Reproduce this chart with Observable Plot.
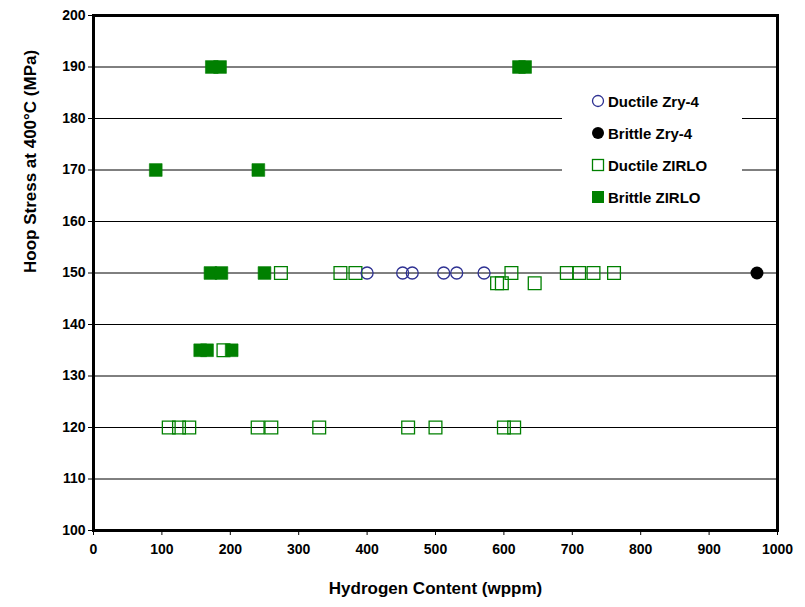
<!DOCTYPE html>
<html>
<head>
<meta charset="utf-8">
<script src="https://cdn.jsdelivr.net/npm/d3@7"></script>
<script src="https://cdn.jsdelivr.net/npm/@observablehq/plot@0.6"></script>
<style>
  body { margin: 0; background: #fff; }
  #wrap { position: relative; width: 805px; height: 607px; }
  #legend { position: absolute; left: 562px; top: 85px; width: 180px; height: 126px; background: #fff;
    font-family: "Liberation Sans", Arial, sans-serif; font-weight: bold; font-size: 15px; color: #000; }
  .item { position: absolute; left: 29px; height: 16px; display: flex; align-items: center; white-space: nowrap; }
  .item svg { margin-right: 3px; }
</style>
</head>
<body>
<div id="wrap"><div id="legend"></div></div>
<script>
// ---- data (hydrogen content wppm, hoop stress MPa) ----
const ductileZry4H = [400, 452, 466, 512, 531, 571];
const ductileZry4S = [150, 150, 150, 150, 150, 150];
const brittleZry4H = [970];
const brittleZry4S = [150];
const ductileZirloH = [110, 125, 140, 240, 260, 330, 460, 500, 600, 615, 190, 274, 361, 383, 611, 692, 710, 731, 761, 590, 597, 645];
const ductileZirloS = [120, 120, 120, 120, 120, 120, 120, 120, 120, 120, 135, 150, 150, 150, 150, 150, 150, 150, 150, 148, 148, 148];
const brittleZirloH = [91, 241, 173, 185, 622, 631, 171, 187, 250, 156, 166, 202];
const brittleZirloS = [170, 170, 190, 190, 190, 190, 150, 150, 150, 135, 135, 135];
const xTicks = [0, 100, 200, 300, 400, 500, 600, 700, 800, 900, 1000];
const yTicks = [100, 110, 120, 130, 140, 150, 160, 170, 180, 190, 200];
const gridLines = [110, 120, 130, 140, 150, 160, 170, 180, 190];
const seriesNames = ["Ductile Zry-4", "Brittle Zry-4", "Ductile ZIRLO", "Brittle ZIRLO"];
const xTitle = "Hydrogen Content (wppm)";
const yTitle = "Hoop Stress at 400°C (MPa)";

const toRows = (H, S) => H.map((h, i) => ({h, s: S[i]}));
const GREEN = "#008000", NAVY = "#2e3192";
const SQ = 7.2;

const chart = Plot.plot({
  width: 805,
  height: 607,
  marginLeft: 93,
  marginRight: 28,
  marginTop: 15,
  marginBottom: 77,
  style: {fontFamily: "'Liberation Sans', Arial, sans-serif", fontSize: "14px", fontWeight: "bold", color: "#000", background: "#fff"},
  x: {domain: [0, 1000]},
  y: {domain: [100, 200]},
  marks: [
    Plot.ruleY(gridLines, {stroke: "#000", strokeWidth: 1}),
    Plot.axisX(xTicks, {tickSize: 5, tickPadding: 9, label: null, tickFormat: d => String(d), stroke: "#000", strokeWidth: 1}),
    Plot.axisY(yTicks, {tickSize: 5, tickPadding: 3, label: null, tickFormat: d => String(d), stroke: "#000", strokeWidth: 1}),
    Plot.dot(toRows(ductileZirloH, ductileZirloS), {x: "h", y: "s", symbol: "square", r: SQ, stroke: GREEN, strokeWidth: 1.3, fill: "none"}),
    Plot.dot(toRows(brittleZirloH, brittleZirloS), {x: "h", y: "s", symbol: "square", r: SQ, fill: GREEN, stroke: GREEN, strokeWidth: 0.6}),
    Plot.dot(toRows(ductileZry4H, ductileZry4S), {x: "h", y: "s", r: 6, stroke: NAVY, strokeWidth: 1.3, fill: "none"}),
    Plot.dot(toRows(brittleZry4H, brittleZry4S), {x: "h", y: "s", r: 6.5, fill: "#000", stroke: "none"}),
    Plot.frame({stroke: "#000", strokeWidth: 3}),
    Plot.text([xTitle], {frameAnchor: "bottom", dy: 63, fontSize: 17, fontWeight: "bold", fill: "#000"}),
    Plot.text([yTitle], {frameAnchor: "left", dx: -63, rotate: -90, fontSize: 17, fontWeight: "bold", fill: "#000"})
  ]
});
document.getElementById("wrap").prepend(chart);

// legend
const legend = d3.select("#legend");
const symbols = [
  s => s.append("circle").attr("cx", 7).attr("cy", 7).attr("r", 5.5).attr("fill", "none").attr("stroke", NAVY).attr("stroke-width", 1.3),
  s => s.append("circle").attr("cx", 7).attr("cy", 7).attr("r", 6).attr("fill", "#000"),
  s => s.append("rect").attr("x", 1.5).attr("y", 1.5).attr("width", 11).attr("height", 11).attr("fill", "none").attr("stroke", GREEN).attr("stroke-width", 1.3),
  s => s.append("rect").attr("x", 1).attr("y", 1).attr("width", 12).attr("height", 12).attr("fill", GREEN)
];
seriesNames.forEach((name, i) => {
  const item = legend.append("div").attr("class", "item").style("top", (8 + i * 32) + "px");
  const svg = item.append("svg").attr("width", 14).attr("height", 14);
  symbols[i](svg);
  item.append("span").text(name);
});
</script>
</body>
</html>
